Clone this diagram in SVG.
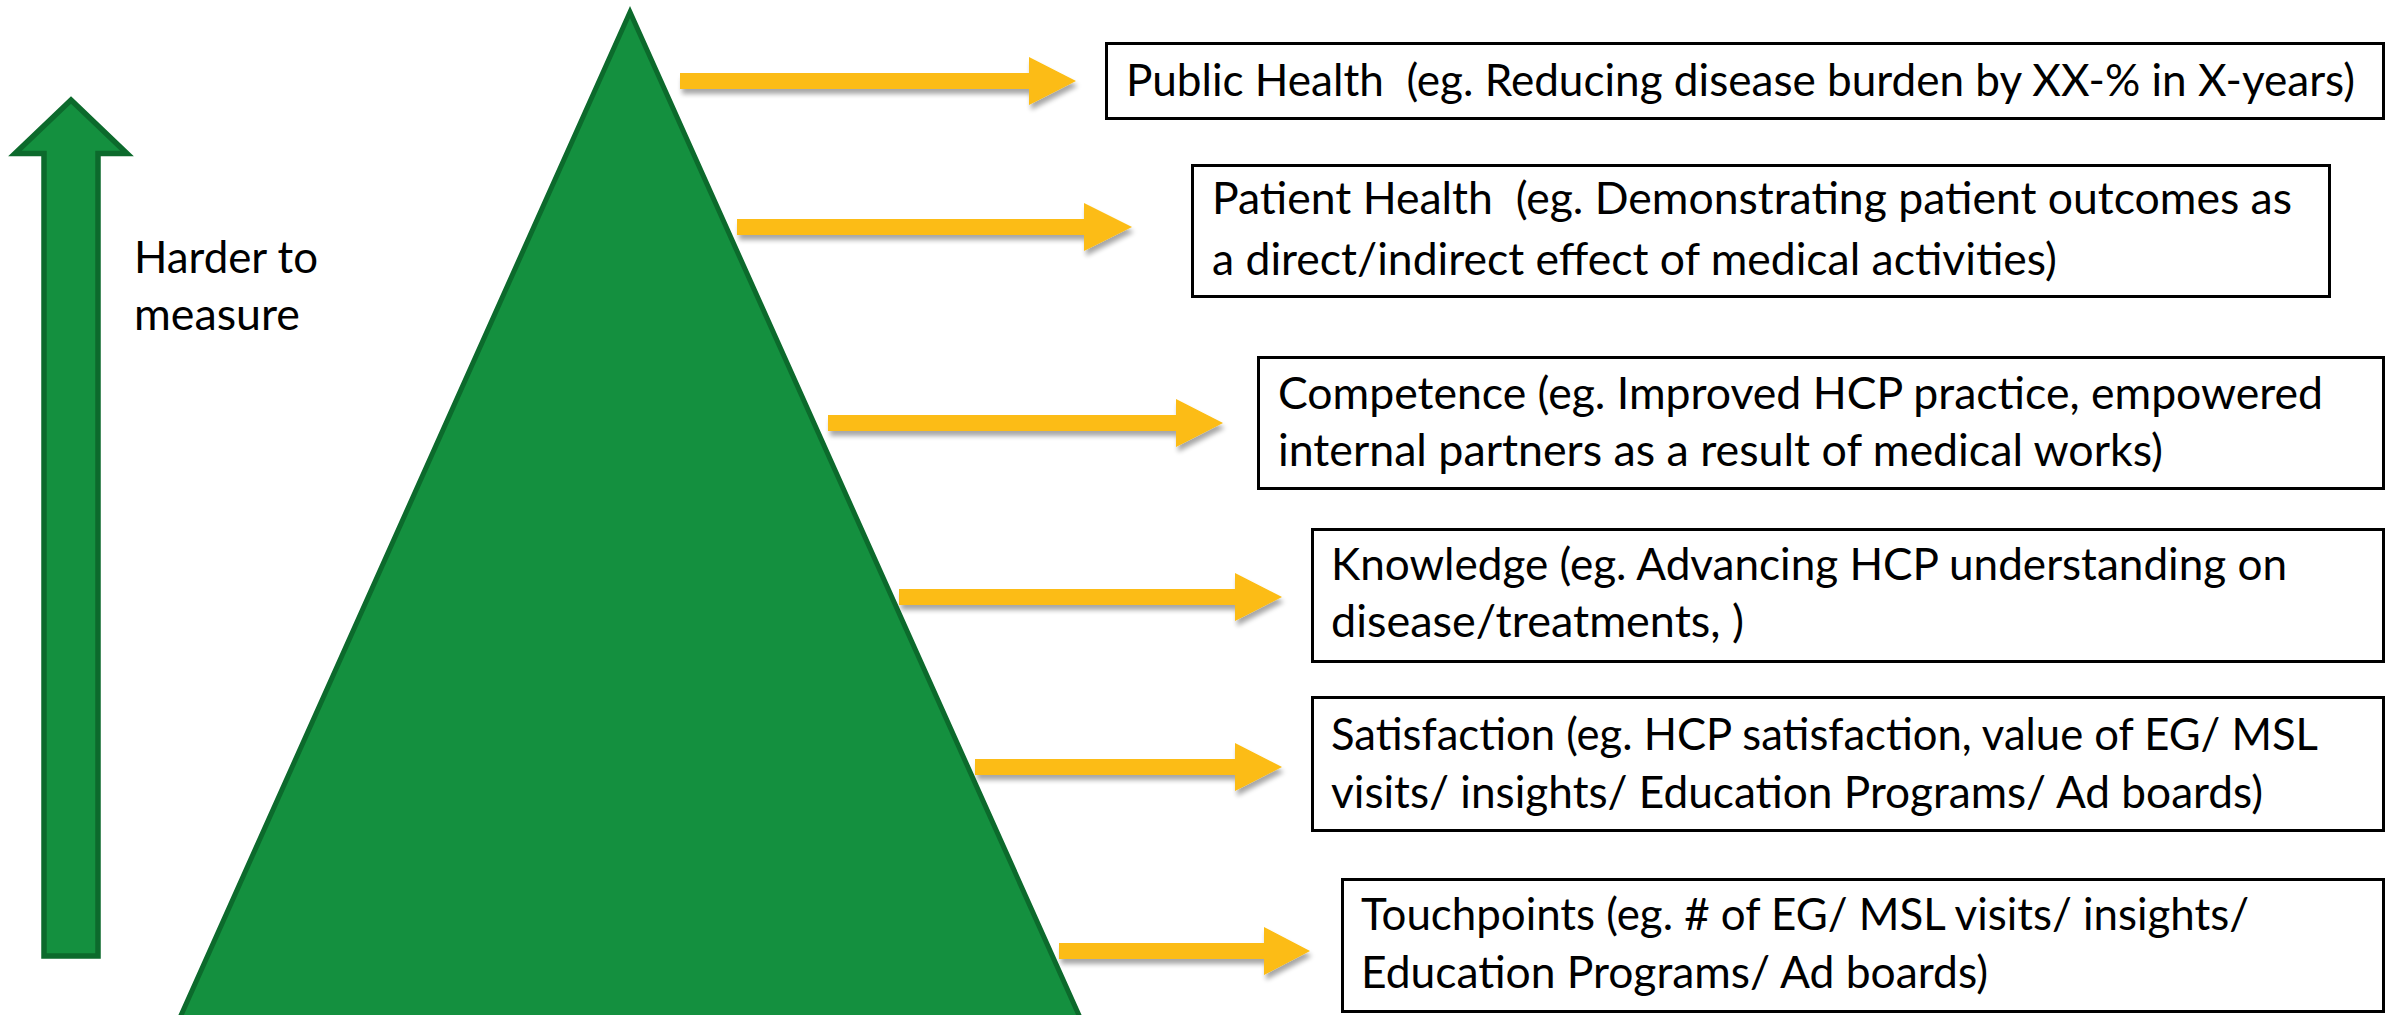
<svg xmlns="http://www.w3.org/2000/svg" width="2395" height="1015" viewBox="0 0 2395 1015">
  <style>
    .green { fill: #14903F; stroke: #0C6A2C; stroke-linejoin: miter; stroke-miterlimit: 10; }
    .box { fill: #FFFFFF; stroke: #000000; stroke-width: 3; }
    .lbl { font-family: Lato, "Open Sans", "Liberation Sans", sans-serif; font-size: 45px; fill: #000000; }
    .pointer { fill: #FCBC12; filter: url(#drop); }
  </style>
  <defs>
    <filter id="drop" x="-5%" y="-40%" width="110%" height="200%">
      <feGaussianBlur in="SourceAlpha" stdDeviation="2.5"/>
      <feOffset dx="2" dy="5" result="b"/>
      <feComponentTransfer><feFuncA type="linear" slope="0.35"/></feComponentTransfer>
      <feMerge><feMergeNode/><feMergeNode in="SourceGraphic"/></feMerge>
    </filter>
  </defs>

  <rect width="2395" height="1015" fill="#FFFFFF"/>

  <!-- vertical scale arrow -->
  <g id="scale-arrow">
    <path class="green" stroke-width="5.5" d="M71,100 L127,153.5 L98,153.5 L98,956 L44,956 L44,153.5 L15,153.5 Z"/>
    <text class="lbl" x="134" y="273" textLength="184" lengthAdjust="spacingAndGlyphs">Harder to</text>
    <text class="lbl" x="134" y="330" textLength="166" lengthAdjust="spacingAndGlyphs">measure</text>
  </g>

  <!-- pyramid -->
  <g id="pyramid">
    <path class="green" stroke-width="5" d="M630,12 L1082,1022 L178,1022 Z"/>
  </g>

  <!-- level arrows -->
  <g id="connectors">
    <polygon class="pointer" points="680,73 1029,73 1029,57 1076,81 1029,105 1029,89 680,89"/>
    <polygon class="pointer" points="737,219 1084,219 1084,203 1132,227 1084,251 1084,235 737,235"/>
    <polygon class="pointer" points="828,415 1176,415 1176,399 1223,423 1176,447 1176,431 828,431"/>
    <polygon class="pointer" points="899,589 1235,589 1235,573 1282,597 1235,621 1235,605 899,605"/>
    <polygon class="pointer" points="975,759 1235,759 1235,743 1282,767 1235,791 1235,775 975,775"/>
    <polygon class="pointer" points="1059,943 1264,943 1264,927 1310,951 1264,975 1264,959 1059,959"/>
  </g>

  <g id="public-health">
    <rect class="box" x="1106.5" y="43.5" width="1277" height="75"/>
    <text class="lbl" xml:space="preserve" x="1126" y="96" textLength="1229" lengthAdjust="spacingAndGlyphs">Public Health  (eg. Reducing disease burden by XX-% in X-years)</text>
  </g>

  <g id="patient-health">
    <rect class="box" x="1192.5" y="165.5" width="1137" height="131"/>
    <text class="lbl" xml:space="preserve" x="1212" y="214" textLength="1080" lengthAdjust="spacingAndGlyphs">Patient Health  (eg. Demonstrating patient outcomes as</text>
    <text class="lbl" x="1212" y="275" textLength="845" lengthAdjust="spacingAndGlyphs">a direct/indirect effect of medical activities)</text>
  </g>

  <g id="competence">
    <rect class="box" x="1258.5" y="357.5" width="1125" height="131"/>
    <text class="lbl" x="1278" y="409" textLength="1045" lengthAdjust="spacingAndGlyphs">Competence (eg. Improved HCP practice, empowered</text>
    <text class="lbl" x="1278" y="466" textLength="885" lengthAdjust="spacingAndGlyphs">internal partners as a result of medical works)</text>
  </g>

  <g id="knowledge">
    <rect class="box" x="1312.5" y="529.5" width="1071" height="132"/>
    <text class="lbl" x="1331" y="580" textLength="956" lengthAdjust="spacingAndGlyphs">Knowledge (eg. Advancing HCP understanding on</text>
    <text class="lbl" x="1331" y="637" textLength="413" lengthAdjust="spacingAndGlyphs">disease/treatments, )</text>
  </g>

  <g id="satisfaction">
    <rect class="box" x="1312.5" y="697.5" width="1071" height="133"/>
    <text class="lbl" x="1331" y="750" textLength="987" lengthAdjust="spacingAndGlyphs">Satisfaction (eg. HCP satisfaction, value of EG/ MSL</text>
    <text class="lbl" x="1331" y="808" textLength="932" lengthAdjust="spacingAndGlyphs">visits/ insights/ Education Programs/ Ad boards)</text>
  </g>

  <g id="touchpoints">
    <rect class="box" x="1342.5" y="879.5" width="1041" height="132"/>
    <text class="lbl" x="1361" y="930" textLength="888" lengthAdjust="spacingAndGlyphs">Touchpoints (eg. # of EG/ MSL visits/ insights/</text>
    <text class="lbl" x="1361" y="988" textLength="627" lengthAdjust="spacingAndGlyphs">Education Programs/ Ad boards)</text>
  </g>
</svg>
